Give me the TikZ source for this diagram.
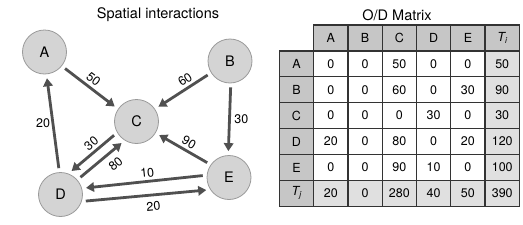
\documentclass[tikz,border=0pt]{standalone}
\usepackage{fontspec}
\setmainfont{TeX Gyre Heros}
\usetikzlibrary{arrows.meta,matrix}
\definecolor{nodefill}{HTML}{D4D4D4}
\definecolor{nodeline}{HTML}{9A9A9A}
\definecolor{arrowc}{HTML}{505050}
\definecolor{hdr}{HTML}{C6C6C6}
\definecolor{tot}{HTML}{E0E0E0}
\definecolor{gridc}{HTML}{333333}
\newcommand{\tsub}[2]{{\itshape #1}\raisebox{-0.3ex}{\fontsize{8.5}{9}\selectfont\itshape #2}}
\begin{document}
\begin{tikzpicture}[x=1pt,y=-1pt,
  place/.style={circle,fill=nodefill,draw=nodeline,line width=0.8pt,minimum size=44pt,inner sep=0pt,font=\fontsize{14.5}{16}\selectfont},
  flow/.style={draw=arrowc,line width=2.8pt,-{Triangle[length=8pt,width=9.5pt]},shorten <=4pt,shorten >=4pt},
  lab/.style={font=\fontsize{12.5}{14}\selectfont,inner sep=2.6pt,text=black},
  ttl/.style={font=\fontsize{14.5}{16}\selectfont}]
\useasboundingbox (0,0) rectangle (523,225);
\node[ttl] (t1) at (158,15) {Spatial interactions};
\node[ttl] (t2) at (397,15) {O/D Matrix};
\node[place] (A) at (44.5,52) {A};
\node[place] (B) at (230,61) {B};
\node[place] (C) at (136.5,121.5) {C};
\node[place] (D) at (60.5,194.5) {D};
\node[place] (E) at (229,177.5) {E};
\draw[flow] (A.-39) -- node[lab,sloped,above,pos=0.47] {50} (C.146);
\draw[flow] (B.212) -- node[lab,sloped,above,pos=0.38] {60} (C.34);
\draw[flow] (B.-88) -- node[lab,right,inner sep=3.5pt] {30} (E.92);
\draw[flow] (E.145) -- node[lab,sloped,above,pos=0.47] {90} (C.-31);
\draw[flow] (C.210) -- node[lab,sloped,above,pos=0.42] {30} (D.69);
\draw[flow] (D.41) -- node[lab,sloped,below,pos=0.64,inner sep=6.5pt] {80} (C.238);
\draw[flow] (D.93) -- node[lab,left,inner sep=1.5pt] {20} (A.-85);
\draw[flow] (E.174) -- node[lab,sloped,above,pos=0.47] {10} (D.16);
\draw[flow] (D.-18) -- node[lab,sloped,below,pos=0.55,inner sep=5.5pt] {20} (E.213);
\matrix (od) [matrix of nodes, anchor=north west, inner sep=0pt, outer sep=0pt,
  column sep=-1.2pt, row sep=-1.2pt,
  nodes={draw=gridc, line width=1.2pt, minimum width=34.3pt, minimum height=25.9pt,
         inner sep=0pt, font=\fontsize{12.5}{14}\selectfont, fill=white, anchor=center},
  row 1/.style={nodes={fill=hdr}},
  column 1/.style={nodes={fill=hdr}},
  column 7/.style={nodes={fill=tot}},
  row 7/.style={nodes={fill=tot}},
  row 1 column 7/.style={nodes={fill=hdr}},
  row 7 column 1/.style={nodes={fill=hdr}}]
  at (278.7,24.4) {
     & A & B & C & D & E & \tsub{T}{i} \\
  A & 0 & 0 & 50 & 0 & 0 & 50 \\
  B & 0 & 0 & 60 & 0 & 30 & 90 \\
  C & 0 & 0 & 0 & 30 & 0 & 30 \\
  D & 20 & 0 & 80 & 0 & 20 & 120 \\
  E & 0 & 0 & 90 & 10 & 0 & 100 \\
  \tsub{T}{j} & 20 & 0 & 280 & 40 & 50 & 390 \\
};
\end{tikzpicture}
\end{document}
